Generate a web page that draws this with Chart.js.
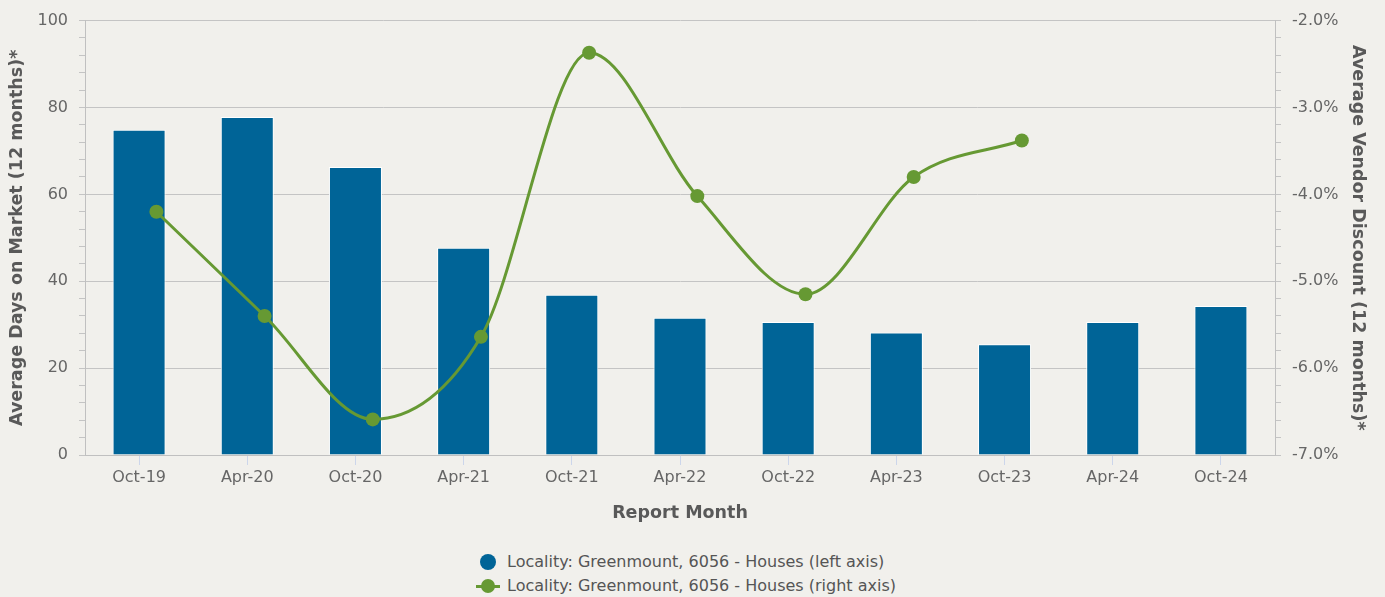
<!DOCTYPE html>
<html>
<head>
<meta charset="utf-8">
<title>Greenmount 6056 - Days on Market and Vendor Discount</title>
<script src="https://cdn.jsdelivr.net/npm/chart.js@4.4.1/dist/chart.umd.min.js"></script>
<style>
    html, body { margin: 0; padding: 0; background: #f1f0ec; }
    #wrap { position: relative; width: 1385px; height: 597px; font-family: 'DejaVu Sans', sans-serif; }
    #chartBox { position: absolute; left: 0; top: 0; width: 1385px; height: 540px; }
    #legend { position: absolute; left: 476px; top: 550px; color: #555555; font-size: 16px; }
    #legend .row { height: 24px; line-height: 24px; white-space: nowrap; display: flex; align-items: center; }
    #legend .mk { position: relative; display: inline-block; width: 24px; height: 24px; margin-right: 7px; }
    #legend .dot { position: absolute; left: 4px; top: 4px; width: 16px; height: 16px; border-radius: 50%; }
    #legend .ln { position: absolute; left: 0; top: 11px; width: 24px; height: 3px; }
</style>
</head>
<body>
<div id="wrap">
    <div id="chartBox"><canvas id="chart"></canvas></div>
    <div id="legend"></div>
</div>
<script>
// Chart data
const reportMonths = ['Oct-19', 'Apr-20', 'Oct-20', 'Apr-21', 'Oct-21', 'Apr-22',
                      'Oct-22', 'Apr-23', 'Oct-23', 'Apr-24', 'Oct-24'];
const daysOnMarket = [74.9, 77.8, 66.3, 47.7, 36.9, 31.6, 30.6, 28.2, 25.5, 30.6, 34.3];
const vendorDiscount = [-4.20, -5.40, -6.59, -5.64, -2.37, -4.02, -5.15, -3.80, -3.38, null, null];

const seriesLabels = [
    'Locality: Greenmount, 6056 - Houses (left axis)',
    'Locality: Greenmount, 6056 - Houses (right axis)'
];

// axis ranges: [min, max, minor step, major step]
const daysAxis = [0, 100, 4, 20];
const discountAxis = [-7, -2, 0.2, 1];

// the line markers sit a little right of the category centres (fraction of a category)
const pointShift = 0.16;

const colors = {
    bar: '#006497',
    line: '#669933',
    grid: '#c4c4c4',
    axis: '#c0c0c0',
    xTick: '#ccd6eb',
    text: '#666666',
    title: '#595959'
};

const tickFont = { family: 'DejaVu Sans', size: 16 };
const titleFont = { family: 'DejaVu Sans', size: 17.5, weight: 'bold' };

function isMajor(value, major) {
    const r = value / major;
    return Math.abs(r - Math.round(r)) < 1e-6;
}

// shifts the line series sideways by part of a category width
const shiftLinePlugin = {
    id: 'shiftLine',
    beforeDatasetDraw(chart, args) {
        if (args.meta.type !== 'line') return;
        const xs = chart.scales.x;
        const dx = pointShift * (xs.getPixelForValue(1) - xs.getPixelForValue(0));
        chart.ctx.save();
        chart.ctx.translate(dx, 0);
    },
    afterDatasetDraw(chart, args) {
        if (args.meta.type !== 'line') return;
        chart.ctx.restore();
    }
};

const ctx = document.getElementById('chart').getContext('2d');

const chart = new Chart(ctx, {
    type: 'bar',
    data: {
        labels: reportMonths,
        datasets: [
            {
                type: 'bar',
                label: seriesLabels[0],
                data: daysOnMarket,
                yAxisID: 'y',
                backgroundColor: colors.bar,
                borderColor: '#ffffff',
                borderWidth: 1,
                categoryPercentage: 1,
                barPercentage: 0.49,
                order: 2
            },
            {
                type: 'line',
                label: seriesLabels[1],
                data: vendorDiscount,
                yAxisID: 'y1',
                borderColor: colors.line,
                backgroundColor: colors.line,
                borderWidth: 3,
                pointRadius: 7,
                pointHoverRadius: 7,
                pointBorderWidth: 0,
                pointBackgroundColor: colors.line,
                cubicInterpolationMode: 'monotone',
                clip: false,
                fill: false,
                order: 1
            }
        ]
    },
    options: {
        responsive: true,
        maintainAspectRatio: false,
        animation: false,
        layout: {
            padding: { top: 20, left: 0, right: 0, bottom: 0 }
        },
        plugins: {
            legend: { display: false },
            tooltip: { enabled: false }
        },
        scales: {
            x: {
                offset: true,
                grid: {
                    display: true,
                    drawOnChartArea: false,
                    offset: false,
                    tickLength: 10,
                    tickColor: colors.xTick
                },
                border: { display: true, color: colors.axis },
                ticks: {
                    color: colors.text,
                    font: tickFont,
                    padding: 3,
                    maxRotation: 0,
                    autoSkip: false
                },
                title: {
                    display: true,
                    text: 'Report Month',
                    color: colors.title,
                    font: titleFont,
                    padding: { top: 0, bottom: 16 }
                },
                afterFit: function(scale) { scale.height = 85; }
            },
            y: {
                position: 'left',
                min: daysAxis[0],
                max: daysAxis[1],
                grid: {
                    color: function(c) {
                        return isMajor(c.tick.value, daysAxis[3]) ? colors.grid : 'rgba(0,0,0,0)';
                    },
                    tickColor: colors.grid,
                    tickLength: 6
                },
                border: { display: true, color: colors.axis },
                ticks: {
                    stepSize: daysAxis[2],
                    maxTicksLimit: 100,
                    autoSkip: false,
                    color: colors.text,
                    font: tickFont,
                    padding: 11,
                    callback: function(value) {
                        return isMajor(value, daysAxis[3]) ? String(Math.round(value)) : '';
                    }
                },
                title: {
                    display: true,
                    text: 'Average Days on Market (12 months)*',
                    color: colors.title,
                    font: titleFont,
                    padding: { top: 7, bottom: 0 }
                },
                afterFit: function(scale) { scale.width = 85; }
            },
            y1: {
                position: 'right',
                min: discountAxis[0],
                max: discountAxis[1],
                grid: {
                    drawOnChartArea: false,
                    tickColor: colors.grid,
                    tickLength: 6
                },
                border: { display: true, color: colors.axis },
                ticks: {
                    stepSize: discountAxis[2],
                    maxTicksLimit: 100,
                    autoSkip: false,
                    color: colors.text,
                    font: tickFont,
                    padding: 11,
                    callback: function(value) {
                        return isMajor(value, discountAxis[3]) ? value.toFixed(1) + '%' : '';
                    }
                },
                title: {
                    display: true,
                    text: 'Average Vendor Discount (12 months)*',
                    color: colors.title,
                    font: titleFont,
                    padding: { top: 17, bottom: 0 }
                },
                afterFit: function(scale) { scale.width = 110; }
            }
        }
    },
    plugins: [shiftLinePlugin]
});

// Legend below the chart, one series per row
function buildLegend() {
    const box = document.getElementById('legend');
    chart.data.datasets.forEach(function(ds) {
        const row = document.createElement('div');
        row.className = 'row';
        const mk = document.createElement('span');
        mk.className = 'mk';
        if (ds.type === 'line') {
            const ln = document.createElement('span');
            ln.className = 'ln';
            ln.style.background = ds.borderColor;
            mk.appendChild(ln);
        }
        const dot = document.createElement('span');
        dot.className = 'dot';
        dot.style.background = ds.type === 'line' ? ds.borderColor : ds.backgroundColor;
        if (ds.type === 'line') {
            dot.style.left = '5px'; dot.style.top = '5px';
            dot.style.width = '14px'; dot.style.height = '14px';
        }
        mk.appendChild(dot);
        row.appendChild(mk);
        row.appendChild(document.createTextNode(ds.label));
        box.appendChild(row);
    });
}
buildLegend();
</script>
</body>
</html>
